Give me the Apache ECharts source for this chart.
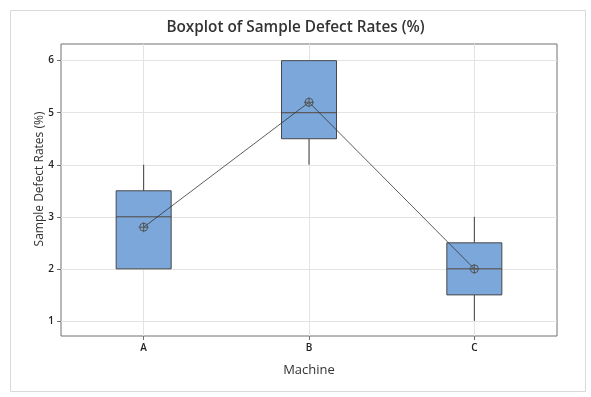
<!DOCTYPE html>
<html>
<head>
<meta charset="utf-8">
<script src="https://cdn.jsdelivr.net/npm/echarts@6/dist/echarts.min.js"></script>
<style>html,body{margin:0;padding:0;background:#fff}#c{width:591px;height:397px}</style>
</head>
<body>
<div id="c"></div>
<script>
const categories = ['A', 'B', 'C'];
const whiskerLow = [2, 4, 1];
const q1 = [2, 4.5, 1.5];
const medians = [3, 5, 2];
const q3 = [3.5, 6, 2.5];
const whiskerHigh = [4, 6, 3];
const means = [2.8, 5.2, 2.0];
const yTicks = [1, 2, 3, 4, 5, 6];

const boxData = categories.map((c, i) => [i, whiskerLow[i], q1[i], medians[i], q3[i], whiskerHigh[i]]);
const meanData = categories.map((c, i) => [i, means[i]]);

const chart = echarts.init(document.getElementById('c'), null, {renderer: 'canvas'});
const FONT = 'Open Sans';
const BOX_W = 55;

function renderBox(params, api) {
  const i = api.value(0);
  const pLow = api.coord([i, api.value(1)]);
  const pQ1 = api.coord([i, api.value(2)]);
  const pMed = api.coord([i, api.value(3)]);
  const pQ3 = api.coord([i, api.value(4)]);
  const pHigh = api.coord([i, api.value(5)]);
  const x = pQ1[0];
  const half = BOX_W / 2;
  const children = [];
  if (pLow[1] - pQ1[1] > 0.5) {
    children.push({type: 'line', shape: {x1: x, y1: pQ1[1], x2: x, y2: pLow[1]}, style: {stroke: '#3c3c3c', lineWidth: 1}});
  }
  if (pQ3[1] - pHigh[1] > 0.5) {
    children.push({type: 'line', shape: {x1: x, y1: pQ3[1], x2: x, y2: pHigh[1]}, style: {stroke: '#3c3c3c', lineWidth: 1}});
  }
  children.push({type: 'rect', shape: {x: x - half, y: pQ3[1], width: BOX_W, height: pQ1[1] - pQ3[1]},
    style: {fill: '#7ba7da', stroke: '#474747', lineWidth: 1}});
  children.push({type: 'line', shape: {x1: x - half, y1: pMed[1], x2: x + half, y2: pMed[1]}, style: {stroke: '#55473c', lineWidth: 1}});
  return {type: 'group', children};
}

function renderMean(params, api) {
  const p = api.coord([api.value(0), api.value(1)]);
  const r = 4;
  return {type: 'group', children: [
    {type: 'circle', shape: {cx: p[0], cy: p[1], r: r}, style: {fill: 'none', stroke: '#555', lineWidth: 1}},
    {type: 'line', shape: {x1: p[0] - r - 1, y1: p[1], x2: p[0] + r + 1, y2: p[1]}, style: {stroke: '#555', lineWidth: 1}},
    {type: 'line', shape: {x1: p[0], y1: p[1] - r - 1, x2: p[0], y2: p[1] + r + 1}, style: {stroke: '#555', lineWidth: 1}}
  ]};
}

chart.setOption({
  animation: false,
  backgroundColor: '#fff',
  title: {
    text: 'Boxplot of Sample Defect Rates (%)',
    left: 'center', top: 15,
    textStyle: {fontFamily: FONT, fontSize: 15.3, fontWeight: 600, color: '#333'}
  },
  graphic: [{
    type: 'rect', left: 8, top: 8, shape: {width: 575, height: 381},
    style: {fill: 'none', stroke: '#d9d9d9', lineWidth: 1}, silent: true, z: -10
  }],
  grid: {left: 61, top: 44, right: 34, bottom: 61, show: true, borderColor: '#707070', borderWidth: 1},
  xAxis: {
    type: 'category',
    data: categories,
    boundaryGap: true,
    name: 'Machine',
    nameLocation: 'middle',
    nameGap: 28,
    nameTextStyle: {fontFamily: FONT, fontSize: 13, color: '#333'},
    axisLine: {show: false},
    axisTick: {show: true, alignWithLabel: true, length: 4, lineStyle: {color: '#707070'}},
    axisLabel: {fontFamily: FONT, fontSize: 10, fontWeight: 600, color: '#222', margin: 7},
    splitLine: {show: true, alignWithLabel: true, lineStyle: {color: '#e3e3e3'}}
  },
  yAxis: {
    type: 'value',
    min: 0.71, max: 6.32,
    name: 'Sample Defect Rates (%)',
    nameLocation: 'middle',
    nameGap: 15,
    nameMoveOverlap: false,
    nameTextStyle: {fontFamily: FONT, fontSize: 12, color: '#333', padding: [0, 0, 0, 22]},
    axisLine: {show: false},
    axisTick: {show: true, length: 4, lineStyle: {color: '#707070'}, customValues: yTicks},
    axisLabel: {fontFamily: FONT, fontSize: 10, fontWeight: 600, color: '#222', margin: 7, customValues: yTicks},
    splitLine: {show: true, lineStyle: {color: '#e3e3e3'}}
  },
  series: [
    {type: 'custom', renderItem: renderBox, data: boxData, encode: {x: 0, y: [1, 2, 3, 4, 5]}, z: 2},
    {type: 'line', data: meanData, showSymbol: false, symbol: 'none', lineStyle: {color: '#333', width: 0.8}, z: 3},
    {type: 'custom', renderItem: renderMean, data: meanData, encode: {x: 0, y: 1}, z: 4}
  ]
});
</script>
</body>
</html>
